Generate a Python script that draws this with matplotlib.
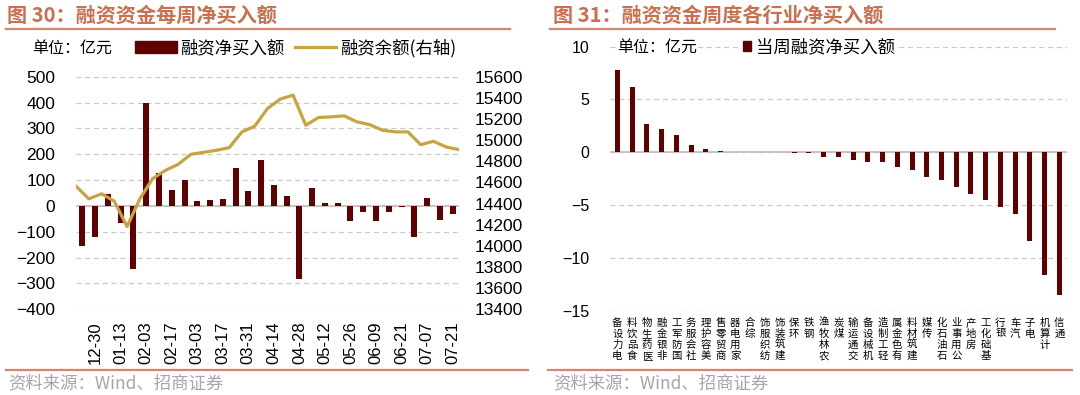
import numpy as np
import matplotlib
matplotlib.use("Agg")
import matplotlib.pyplot as plt
from matplotlib.patches import Patch
from matplotlib.lines import Line2D

plt.rcParams['font.family'] = ['Liberation Sans', 'Noto Sans CJK SC', 'DejaVu Sans']
CJK = ['Noto Sans CJK SC', 'DejaVu Sans']

# ---- left chart data: weekly net buying (亿元) and margin balance (right axis)
weeks = ['12-23', '12-30', '01-06', '01-13', '01-20', '02-03', '02-10', '02-17',
         '02-24', '03-03', '03-10', '03-17', '03-24', '03-31', '04-07', '04-14',
         '04-21', '04-28', '05-06', '05-12', '05-19', '05-26', '06-02', '06-09',
         '06-16', '06-21', '06-30', '07-07', '07-14', '07-21']
net_buy = [-155, -120, 48, -68, -245, 397, 128, 63, 101, 20, 24, 28, 147, 59, 178,
           82, 38, -283, 70, 12, 10, -60, -22, -60, -22, -6, -122, 32, -55, -30]
balance = [14565, 14445, 14492, 14423, 14182, 14445, 14635, 14714, 14771, 14866,
           14885, 14904, 14929, 15078, 15132, 15299, 15388, 15426, 15141, 15214,
           15220, 15230, 15173, 15147, 15094, 15078, 15078, 14957, 14989, 14935, 14910]

# ---- right chart data: net buying by industry this week (亿元)
industries = ['电力设备', '食品饮料', '医药生物', '非银金融', '国防军工', '社会服务',
              '美容护理', '商贸零售', '家用电器', '综合', '纺织服饰', '建筑装饰', '环保',
              '钢铁', '农林牧渔', '煤炭', '交通运输', '机械设备', '轻工制造', '有色金属',
              '建筑材料', '传媒', '石油石化', '公用事业', '房地产', '基础化工', '银行',
              '汽车', '电子', '计算机', '通信']
ind_values = [7.82, 6.23, 2.66, 2.25, 1.65, 0.66, 0.35, 0.08, 0.04, 0.02, 0.01,
              -0.01, -0.03, -0.1, -0.41, -0.47, -0.76, -0.92, -0.95, -1.39, -1.68,
              -2.31, -2.66, -3.32, -3.99, -4.53, -5.22, -5.89, -8.4, -11.6, -13.5]

BAR = '#600000'
GOLD = '#C8A440'
TITLE = '#C8704F'
RULE = '#D4866A'
GRID = '#C8C8C8'

W, H = 1080, 395
fig = plt.figure(figsize=(W / 100, H / 100), dpi=100)


def fx(px):
    return px / W


def fy(py):
    return 1 - py / H


# ---------------- left chart ----------------
ax1 = fig.add_axes([fx(76), fy(309.3), fx(383), 232.6 / H])
x = np.arange(len(weeks))
ax1.bar(x, net_buy, width=0.47, color=BAR, zorder=2)
ax1.set_xlim(-0.5, len(weeks) - 0.5)
ax1.set_ylim(-400, 500)
ax1.set_yticks(range(-400, 501, 100))
ax1.yaxis.grid(True, linestyle=(0, (4, 3)), color=GRID, lw=0.9)
ax1.set_axisbelow(True)
ax1.axhline(0, color='#BFBFBF', lw=1.2, zorder=1)
ax1.set_xticks(x[1::2])
ax1.set_xticklabels(weeks[1::2])
ax1.tick_params(axis='y', length=0, pad=15, labelsize=12.5)
ax1.tick_params(axis='x', length=0, pad=9, labelsize=12, rotation=90)

ax2 = ax1.twinx()
ax2.plot(np.arange(len(balance)) - 0.5, balance, color=GOLD, lw=2.3)
ax2.set_ylim(13400, 15600)
ax2.set_yticks(range(13400, 15601, 200))
ax2.tick_params(axis='y', length=0, pad=11, labelsize=12.5)
for a in (ax1, ax2):
    for s in a.spines.values():
        s.set_visible(False)

fig.text(fx(32), fy(48), '单位：亿元', family=CJK, fontsize=11.5, va='center')
fig.legend(handles=[Patch(color=BAR), Line2D([], [], color=GOLD, lw=2.3)],
           labels=['融资净买入额', '融资余额(右轴)'], loc='center left',
           bbox_to_anchor=(fx(135), fy(48)), ncol=2, frameon=False,
           handlelength=2.4, handleheight=0.65, handletextpad=0.2,
           columnspacing=0.6, borderpad=0, borderaxespad=0,
           prop={'family': CJK, 'size': 12.5})

# ---------------- right chart ----------------
ax3 = fig.add_axes([fx(610), fy(310.7), fx(456.7), 264 / H])
xi = np.arange(len(industries))
ax3.bar(xi, ind_values, width=0.34, color=BAR, zorder=2)
ax3.set_xlim(-0.5, len(industries) - 0.5)
ax3.set_ylim(-15, 10)
ax3.set_yticks(range(-15, 11, 5))
ax3.yaxis.grid(True, linestyle=(0, (4, 3)), color=GRID, lw=0.9)
ax3.set_axisbelow(True)
ax3.axhline(0, color='#BFBFBF', lw=1.2, zorder=1)
ax3.set_xticks([])
ax3.tick_params(axis='y', length=0, pad=15, labelsize=11.5)
for s in ax3.spines.values():
    s.set_visible(False)

# stacked upright characters, read bottom-to-top, hanging from the axis bottom
for i, name in enumerate(industries):
    for k, ch in enumerate(reversed(name)):
        ax3.annotate(ch, xy=(i, 0), xycoords=('data', 'axes fraction'),
                     xytext=(0, -5 - k * 8.0), textcoords='offset points',
                     ha='center', va='top', family=CJK, fontsize=7.5)

fig.text(fx(617), fy(47), '单位：亿元', family=CJK, fontsize=11.5, va='center',
         bbox=dict(facecolor='white', edgecolor='none', pad=1))
ax3.legend(handles=[Patch(color=BAR)], labels=['当周融资净买入额'],
           loc='center left', bbox_to_anchor=(fx(741), fy(47)),
           bbox_transform=fig.transFigure, frameon=True, facecolor='white',
           edgecolor='none', framealpha=1, fancybox=False, borderpad=0.1,
           handlelength=0.5, handleheight=0.5, handletextpad=0.25,
           borderaxespad=0, prop={'family': CJK, 'size': 12.5})

# ---------------- titles, rules, sources ----------------
fig.text(fx(7), fy(15), '图 30：融资资金每周净买入额', family=CJK, fontsize=14.5,
         fontweight='bold', color=TITLE, va='center')
fig.text(fx(553), fy(15), '图 31：融资资金周度各行业净买入额', family=CJK, fontsize=14.5,
         fontweight='bold', color=TITLE, va='center')
for x0, x1, yy in [(6, 510, 28.5), (550, 1055, 28.5), (6, 528, 370), (548, 1072, 370)]:
    fig.add_artist(Line2D([fx(x0), fx(x1)], [fy(yy), fy(yy)], color=RULE, lw=1.6,
                          transform=fig.transFigure))
for xs in (8, 553):
    fig.text(fx(xs), fy(383), '资料来源：Wind、招商证券', family=CJK, fontsize=12.5,
             color='#A6A6A6', va='center')

fig.savefig('out.png', dpi=100)
